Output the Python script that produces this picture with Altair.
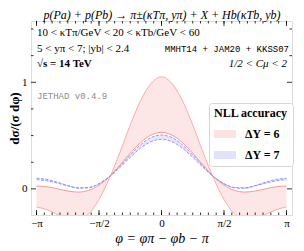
import altair as alt
import numpy as np
import pandas as pd

# phi grid in units of pi/12
k_steps = list(range(-12, 13))
dy6_upper = [-0.17, -0.195, -0.24, -0.29, -0.29, -0.235, -0.10, 0.10, 0.34, 0.60, 0.83, 0.99, 1.05,
             0.99, 0.83, 0.60, 0.34, 0.10, -0.10, -0.235, -0.29, -0.29, -0.24, -0.195, -0.17]
dy6_lower = [0.028, 0.020, 0.001, -0.020, -0.030, -0.014, 0.035, 0.116, 0.222, 0.335, 0.435, 0.505, 0.53,
             0.505, 0.435, 0.335, 0.222, 0.116, 0.035, -0.014, -0.030, -0.020, 0.001, 0.020, 0.028]
dy7_upper = [0.100, 0.089, 0.063, 0.032, 0.010, 0.013, 0.048, 0.117, 0.213, 0.318, 0.414, 0.481, 0.505,
             0.481, 0.414, 0.318, 0.213, 0.117, 0.048, 0.013, 0.010, 0.032, 0.063, 0.089, 0.100]
dy7_lower = [0.085, 0.076, 0.054, 0.028, 0.006, 0.010, 0.049, 0.113, 0.200, 0.296, 0.383, 0.443, 0.465,
             0.443, 0.383, 0.296, 0.200, 0.113, 0.049, 0.010, 0.006, 0.028, 0.054, 0.076, 0.085]
series_names = ["ΔY = 6", "ΔY = 7"]

x_major = [-np.pi, -np.pi / 2, 0.0, np.pi / 2, np.pi]
x_minor = [s * np.pi / 16 for s in range(-16, 17)]
y_major = [0.0, 1.0]
y_minor = [0.25, 0.5, 0.75, 1.25, 1.5]

phi = [s * np.pi / 12 for s in k_steps]
df6 = pd.DataFrame({"phi": phi, "lo": dy6_lower, "hi": dy6_upper, "series": series_names[0]})
df7 = pd.DataFrame({"phi": phi, "lo": dy7_lower, "hi": dy7_upper, "series": series_names[1]})
bands = pd.concat([df6, df7], ignore_index=True)

W, H = 261, 194
SERIF = "Liberation Serif"
MONO = "Liberation Mono"
xs = alt.Scale(domain=[-3.28, 3.28], nice=False, zero=False)
ys = alt.Scale(domain=[-0.245, 1.575], nice=False, zero=False)

x_label_expr = ("datum.value < -2 ? '−π' : datum.value < -1 ? '−π/2' : "
                "(datum.value < 1 ? '0' : (datum.value < 2 ? 'π/2' : 'π'))")

x_axis = alt.Axis(
    values=x_major, labelExpr=x_label_expr, ticks=False, domain=False, grid=False,
    labelFont=SERIF, labelFontSize=11, labelColor="black", labelPadding=2,
    labelFlush=False, labelOverlap=False,
    title="φ = φπ − φb − π", titleFont=SERIF, titleFontSize=14, titleFontWeight="normal",
    titleFontStyle="italic", titleColor="black", titlePadding=3)
y_axis = alt.Axis(
    values=y_major, format="d", ticks=False, domain=False, grid=False,
    labelFont=SERIF, labelFontSize=11, labelColor="black", labelPadding=4,
    title="dσ/(σ dφ)", titleFont=SERIF, titleFontSize=13, titleFontWeight="bold",
    titleColor="black", titlePadding=0)

area = alt.Chart(bands).mark_area(interpolate="monotone", clip=True, fillOpacity=0.85).encode(
    x=alt.X("phi:Q", scale=xs, axis=x_axis),
    y=alt.Y("lo:Q", scale=ys, axis=y_axis),
    y2="hi:Q",
    color=alt.Color("series:N", scale=alt.Scale(domain=series_names, range=["#fde2e2", "#e2e2fb"]),
                    legend=alt.Legend(
                        title="NLL accuracy", orient="none", legendX=178, legendY=82,
                        fillColor="white", strokeColor="#d6d6d6", cornerRadius=3, padding=5,
                        titleFont=SERIF, titleFontSize=12, titleFontWeight="bold", titleColor="black",
                        titlePadding=3, labelFont=SERIF, labelFontSize=12, labelFontWeight="bold",
                        labelColor="black", labelOffset=9, rowPadding=4,
                        symbolType="M-1,-0.36H1V0.36H-1Z", symbolSize=484, symbolStrokeWidth=0,
                        symbolOpacity=1)),
)

def edge(df, col, color, dash=None):
    kw = dict(interpolate="monotone", clip=True, color=color, strokeWidth=0.9)
    if dash:
        kw["strokeDash"] = dash
    return alt.Chart(df).mark_line(**kw).encode(
        x=alt.X("phi:Q", scale=xs, axis=x_axis), y=alt.Y(f"{col}:Q", scale=ys, axis=y_axis))

lines = [
    edge(df6, "hi", "#f7a3a3"), edge(df6, "lo", "#f48f8f"),
    edge(df7, "hi", "#8f8ff2", [3, 1.5]), edge(df7, "lo", "#8f8ff2", [3, 1.5]),
]

def xticks(vals, length):
    d = pd.DataFrame({"v": vals})
    base = alt.Chart(d).mark_rule(color="black", strokeWidth=0.8)
    xe = alt.X("v:Q", scale=xs, axis=x_axis)
    return [base.encode(x=xe, y=alt.value(H), y2=alt.value(H - length)),
            base.encode(x=xe, y=alt.value(0), y2=alt.value(length))]

def yticks(vals, length):
    d = pd.DataFrame({"v": vals})
    base = alt.Chart(d).mark_rule(color="black", strokeWidth=0.8)
    ye = alt.Y("v:Q", scale=ys, axis=y_axis)
    return [base.encode(y=ye, x=alt.value(0), x2=alt.value(length)),
            base.encode(y=ye, x=alt.value(W), x2=alt.value(W - length))]

ticks = xticks(x_major, 5) + xticks(x_minor, 2.5) + yticks(y_major, 5) + yticks(y_minor, 2.5)

one = pd.DataFrame({"a": [0]})

def label(text, x, y, align="left", font=SERIF, size=11, weight="normal", style="normal", color="black"):
    return alt.Chart(one).mark_text(text=text, align=align, baseline="middle", font=font,
                                    fontSize=size, fontWeight=weight, fontStyle=style,
                                    color=color).encode(x=alt.value(x), y=alt.value(y))

texts = [
    label("p(Pa) + p(Pb) → π±(κTπ, yπ) + X + Hb(κTb, yb)", 131, -6.5, align="center",
          size=12, style="italic"),
    label("10 < κTπ/GeV < 20 < κTb/GeV < 60", 6, 12),
    label("5 < yπ < 7;  |yb| < 2.4", 6, 28),
    label("MMHT14 + JAM20 + KKSS07", 258, 28, align="right", font=MONO, size=9),
    label("√s = 14 TeV", 6, 43, weight="bold"),
    label("1/2 < Cμ < 2", 256, 43, align="right", style="italic"),
    label("JETHAD v0.4.9", 6, 75, font=MONO, size=9, color="#8a8a8a"),
]

chart = alt.layer(area, *lines, *ticks, *texts).properties(
    width=W, height=H,
    autosize=alt.AutoSizeParams(type="none"),
    padding={"left": 23, "top": 13, "right": 4, "bottom": 35},
).configure_view(stroke="black", strokeWidth=1).configure(background="white")

chart.save("out.html", embed_options={"renderer": "svg", "actions": False})
